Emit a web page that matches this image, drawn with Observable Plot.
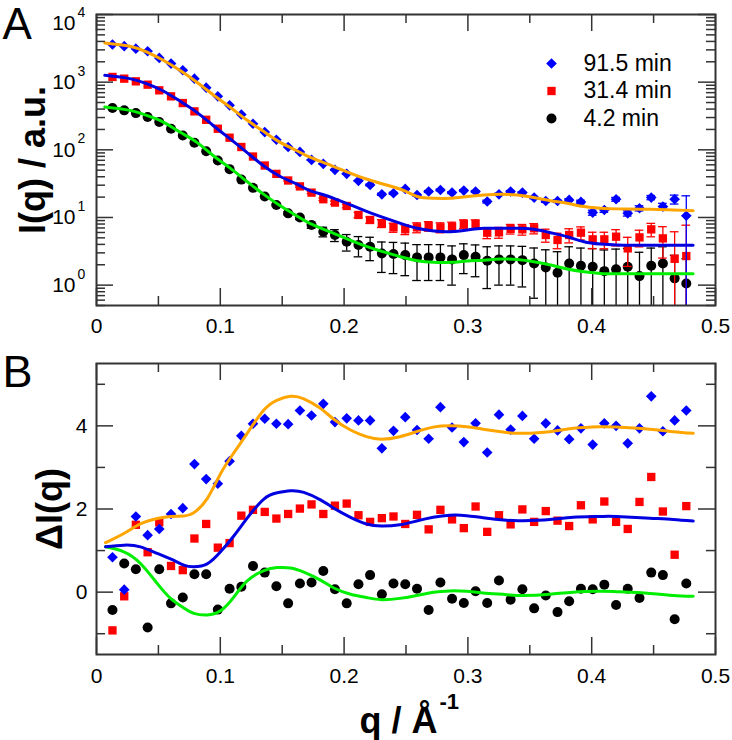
<!DOCTYPE html>
<html><head><meta charset="utf-8">
<script src="https://cdn.jsdelivr.net/npm/d3@7"></script>
<script src="https://cdn.jsdelivr.net/npm/@observablehq/plot@0.6"></script>
<style>
html,body{margin:0;padding:0;background:#fff;}
#chart svg{display:block;}
</style></head><body><div id="chart"></div>
<script>
// ---------- data ----------
const q = [0.0129,0.0224,0.0318,0.0413,0.0507,0.0602,0.0697,0.0791,0.0886,0.0980,
  0.1075,0.1170,0.1264,0.1359,0.1453,0.1548,0.1643,0.1737,0.1832,0.1926,
  0.2021,0.2116,0.2210,0.2305,0.2399,0.2494,0.2589,0.2683,0.2778,0.2872,
  0.2967,0.3062,0.3156,0.3251,0.3345,0.3440,0.3535,0.3629,0.3724,0.3818,
  0.3913,0.4008,0.4102,0.4197,0.4291,0.4386,0.4481,0.4575,0.4670,0.4764];

const seriesLabels = ["91.5 min", "31.4 min", "4.2 min"];

// Panel A: I(q)
const iA_915 = [3600,3400,3130,2860,2280,1880,1500,1127,830,617,
  454,333,243,183,141,110,93,71,62,50.6,
  44.1,34.8,30.3,22.0,22.8,26.4,21.5,24.2,25.5,23.3,
  25.0,24.2,17.2,22.0,24.2,23.3,19.7,17.5,17.5,18.2,
  17.0,11.8,12.9,18.6,11.5,13.7,19.7,14.5,18.6,10.6];
const iA_314 = [1194,1127,1028,918,757,617,491,370,278,205,
  151,110,79.6,58.6,44.1,35.2,28.8,23.3,18.6,16.6,
  14.8,10.9,9.18,8.20,7.14,6.68,7.14,7.48,7.14,7.31,
  8.02,8.02,5.96,6.03,6.79,6.68,6.92,5.51,4.65,5.51,
  5.96,4.75,4.75,5.20,3.49,5.08,6.68,4.91,2.45,2.69];
const iA_42 = [414,383,349,305,257,205,163,127,95.5,69.5,
  51.8,36.3,27.4,20.4,15.3,11.5,10.0,7.76,6.17,5.51,
  4.39,3.92,3.70,2.94,2.88,2.78,2.57,2.57,2.57,2.40,
  2.78,2.63,2.29,2.40,2.40,2.34,2.09,1.83,1.52,2.09,
  1.93,1.87,1.61,1.71,1.87,1.36,1.93,2.09,1.26,1.06];
const errA_915 = [0,0,0,0,0,0,0,0,0,0, 0,0,0,0,0,0,0.5,0.5,0.5,0.5,
  0.5,0.5,0.8,0.8,0.8,0.8,0.8,0.8,0.8,0.8, 0.8,0.8,0.8,0.8,0.8,0.8,0.8,0.8,0.8,0.8,
  1.0,1.0,1.0,1.2,1.0,1.2,1.4,1.7,2.8,10.3];
const errA_314 = [0,0,0,0,0,0,0,0,0,0, 0,0,0,0,0,0.8,0.8,0.8,0.8,0.9,
  0.9,1.0,1.0,1.1,1.1,1.1,1.2,1.2,1.2,1.2, 1.2,1.2,1.1,1.1,1.1,1.2,1.2,1.2,1.2,1.3,
  1.3,1.3,1.3,1.4,1.6,1.4,1.5,2.4,3.7,5.0];
const errA_42 = [0,0,0,0,0,0,0,0,0,0, 0,0,0,0,0.4,0.55,0.7,0.85,1.0,1.1,
  1.2,1.3,1.4,1.4,1.4,1.4,1.4,1.4,1.4,1.4, 1.3,1.3,1.4,1.4,1.4,1.4,1.45,1.5,1.6,1.6,
  1.6,1.6,1.7,1.7,1.6,1.7,1.6,1.6,1.5,1.4];

// Panel A fits
const fitQA = [0.0067,0.0269,0.0404,0.0539,0.0673,0.0808,0.0942,0.1077,0.1212,0.1346,
  0.1481,0.1616,0.1723,0.1917,0.2186,0.2456,0.2590,0.2725,0.2860,0.2994,
  0.3129,0.3263,0.3398,0.3533,0.3667,0.3802,0.3937,0.4071,0.4206,0.4475,0.4819];
const fitA_915 = [3802,3396,2799,2104,1496,1005,653,429,278,189,
  130,97.7,77.8,56.6,36.7,26.1,20.4,19.2,19.2,20.4,
  21.5,22.0,21.5,19.7,17.7,16.2,14.5,13.7,13.4,13.2,12.6];
const fitA_314 = [1262,1127,951,740,526,361,229,146,92.3,58.6,
  40.7,31.3,25.0,19.2,12.2,8.20,6.92,6.31,6.17,6.53,
  6.92,6.92,6.92,6.68,5.96,5.20,4.39,4.05,3.92,3.87,3.87];
const fitA_42 = [429,383,323,257,183,130,82.4,54.1,34.4,22.3,
  15.0,10.6,8.20,5.82,3.70,2.63,2.29,2.17,2.17,2.27,
  2.34,2.43,2.40,2.22,1.98,1.73,1.58,1.49,1.47,1.47,1.47];

// Panel B: ΔI(q)
const dI_915 = [0.84,0.06,1.82,1.37,1.52,1.88,2.02,3.08,2.72,2.61,
  3.15,3.76,4.05,4.17,4.05,4.04,4.37,4.25,4.53,4.09,
  4.18,4.13,4.13,3.46,3.88,4.21,3.90,3.69,4.45,3.96,
  3.61,4.06,3.36,4.27,3.91,4.24,3.69,4.06,3.89,3.68,
  3.94,3.55,4.06,4.00,3.58,3.94,4.71,3.87,4.13,4.37];
const dI_314 = [-0.92,-0.10,1.62,0.96,1.68,0.63,0.53,1.29,1.64,1.07,
  1.18,1.84,1.98,1.93,1.77,1.88,2.01,2.11,1.88,2.08,
  2.13,1.85,1.69,1.78,1.82,1.64,1.86,1.51,1.98,1.75,
  1.54,2.06,1.45,1.85,1.63,1.99,1.69,1.95,1.72,1.59,
  2.09,1.75,2.18,1.69,1.52,2.17,2.77,1.94,0.90,2.07];
const dI_42 = [-0.43,0.69,0.55,-0.85,0.55,-0.27,-0.13,0.43,0.43,-0.42,
  0.08,0.13,0.63,0.47,0.14,-0.27,0.21,0.23,0.51,0.07,
  -0.27,0.19,0.41,-0.05,0.21,0.19,0.08,-0.43,0.23,-0.16,
  -0.26,0.02,-0.26,0.28,-0.18,0.07,-0.39,-0.08,-0.48,-0.22,
  0.08,0.07,0.18,-0.31,0.08,-0.14,0.47,0.41,-0.65,0.21];

// Panel B fits
const fitQB = [0.0073,0.0221,0.0355,0.0490,0.0598,0.0705,0.0786,0.0894,0.1002,0.1109,
  0.1217,0.1352,0.1460,0.1567,0.1675,0.1809,0.1917,0.2052,0.2181,0.2302,
  0.2450,0.2585,0.2720,0.2854,0.2989,0.3123,0.3312,0.3447,0.3662,0.3850,
  0.4066,0.4200,0.4470,0.4658,0.4820];
const fitB_915 = [1.19,1.41,1.64,1.77,1.82,1.83,1.91,2.25,2.85,3.35,
  3.82,4.38,4.62,4.71,4.65,4.42,4.16,3.90,3.74,3.68,
  3.74,3.86,3.97,4.00,3.98,3.92,3.84,3.82,3.86,3.94,
  3.98,3.97,3.92,3.86,3.82];
const fitB_314 = [1.09,1.13,1.09,0.93,0.80,0.65,0.61,0.68,0.97,1.35,
  1.78,2.24,2.39,2.44,2.40,2.22,2.02,1.80,1.64,1.59,
  1.62,1.71,1.80,1.85,1.84,1.79,1.73,1.72,1.75,1.80,
  1.82,1.82,1.78,1.75,1.71];
const fitB_42 = [1.09,0.97,0.69,0.21,-0.15,-0.38,-0.51,-0.55,-0.45,-0.12,
  0.27,0.52,0.59,0.58,0.48,0.29,0.10,-0.05,-0.13,-0.18,
  -0.15,-0.08,0.00,0.03,0.02,-0.02,-0.06,-0.08,-0.05,0.00,
  0.02,0.01,-0.03,-0.08,-0.10];

// Ticks
const xTicksMajor = [0, 0.1, 0.2, 0.3, 0.4, 0.5];
const xTickLabels = ["0", "0.1", "0.2", "0.3", "0.4", "0.5"];
const xTicksMinor = [0.05, 0.15, 0.25, 0.35, 0.45];
const yTicksA = [1, 10, 100, 1000, 10000];
const yTickExpA = ["0", "1", "2", "3", "4"];
const yTicksAMinor = [0.5,0.6,0.7,0.8,0.9, 2,3,4,5,6,7,8,9, 20,30,40,50,60,70,80,90,
  200,300,400,500,600,700,800,900, 2000,3000,4000,5000,6000,7000,8000,9000];
const yTicksB = [0, 2, 4];
const yTickLabelsB = ["0", "2", "4"];
const yTicksBMinor = [-1, 1, 3, 5];

// ---------- styling ----------
const W = 732;
const FONT = "'Liberation Sans', Arial, Helvetica, sans-serif";
const frameColor = "#333";
const colors = {pt915: "#0000ff", pt314: "#ff0000", pt42: "#000000",
  fit915: "#ffa500", fit314: "#0000e0", fit42: "#00ee00"};
const MAJ = 17, MIN = 9;
const capHalf = 0.0035;
const yMinA = 0.5;

function tickMarks(iw, ih, yMaj, yMin) {
  const s = {stroke: frameColor, strokeWidth: 1.5};
  return [
    Plot.tickX(xTicksMajor, {x: d => d, insetTop: ih - MAJ, ...s}),
    Plot.tickX(xTicksMajor, {x: d => d, insetBottom: ih - MAJ, ...s}),
    Plot.tickX(xTicksMinor, {x: d => d, insetTop: ih - MIN, ...s}),
    Plot.tickX(xTicksMinor, {x: d => d, insetBottom: ih - MIN, ...s}),
    Plot.tickY(yMaj, {y: d => d, insetRight: iw - MAJ, ...s}),
    Plot.tickY(yMaj, {y: d => d, insetLeft: iw - MAJ, ...s}),
    Plot.tickY(yMin, {y: d => d, insetRight: iw - MIN, ...s}),
    Plot.tickY(yMin, {y: d => d, insetLeft: iw - MIN, ...s})
  ];
}

function errMarks(I, err, color) {
  const rows = q.map((qq, i) => ({q: qq, lo: Math.max(I[i] - err[i], yMinA), hi: I[i] + err[i], hasLo: I[i] - err[i] > yMinA, e: err[i]}))
    .filter(d => d.e > 0);
  return [
    Plot.ruleX(rows, {x: "q", y1: "lo", y2: "hi", stroke: color, strokeWidth: 1.3, clip: true}),
    Plot.ruleY(rows, {y: "hi", x1: d => d.q - capHalf, x2: d => d.q + capHalf, stroke: color, strokeWidth: 1.3}),
    Plot.ruleY(rows.filter(d => d.hasLo), {y: "lo", x1: d => d.q - capHalf, x2: d => d.q + capHalf, stroke: color, strokeWidth: 1.3})
  ];
}

const symbolFor = {pt915: "diamond2", pt314: "square", pt42: "circle"};
const rFor = {pt915: 4.8, pt314: 4.7, pt42: 5};

function dotMark(vals, key) {
  return Plot.dot(q.map((qq, i) => ({q: qq, v: vals[i]})),
    {x: "q", y: "v", symbol: () => symbolFor[key], fill: colors[key], stroke: "none", r: rFor[key]});
}
function fitMark(qs, vals, color) {
  return Plot.line(qs.map((qq, i) => ({q: qq, v: vals[i]})),
    {x: "q", y: "v", stroke: color, strokeWidth: 3, curve: "natural"});
}

const baseStyle = {fontFamily: FONT, fontSize: "21px", background: "white", overflow: "visible", color: "black"};

// ---------- Panel A ----------
const hA = 345, mtA = 14, mbA = 40, ml = 96, mr = 17;
const iw = W - ml - mr, ihA = hA - mtA - mbA;
const legendKeys = ["pt915", "pt314", "pt42"];
const topTick = yTicksA[yTicksA.length - 1];
const lowTicksA = yTicksA.slice(0, -1);

const plotA = Plot.plot({
  width: W, height: hA, marginTop: mtA, marginBottom: mbA, marginLeft: ml, marginRight: mr,
  x: {domain: [0, 0.5], axis: null},
  y: {type: "log", domain: [yMinA, 10000], axis: null},
  style: baseStyle,
  marks: [
    ...errMarks(iA_42, errA_42, colors.pt42),
    dotMark(iA_42, "pt42"),
    ...errMarks(iA_314, errA_314, colors.pt314),
    dotMark(iA_314, "pt314"),
    ...errMarks(iA_915, errA_915, colors.pt915),
    dotMark(iA_915, "pt915"),
    fitMark(fitQA, fitA_42, colors.fit42),
    fitMark(fitQA, fitA_314, colors.fit314),
    fitMark(fitQA, fitA_915, colors.fit915),
    ...tickMarks(iw, ihA, yTicksA, yTicksAMinor),
    Plot.frame({stroke: frameColor, strokeWidth: 2}),
    Plot.text(xTickLabels, {x: (d, i) => xTicksMajor[i], text: d => d, frameAnchor: "bottom", dy: 27, lineAnchor: "bottom", fontSize: 21}),
    Plot.text(lowTicksA, {y: d => d, text: () => "10", frameAnchor: "left", textAnchor: "end", dx: -21, lineAnchor: "middle", fontSize: 21}),
    Plot.text(lowTicksA, {y: d => d, text: (d, i) => yTickExpA[i], frameAnchor: "left", textAnchor: "start", dx: -19, dy: -11, lineAnchor: "middle", fontSize: 14}),
    Plot.text([topTick], {y: d => d, text: () => "10", frameAnchor: "left", textAnchor: "end", dx: -21, dy: 9, lineAnchor: "middle", fontSize: 21}),
    Plot.text([topTick], {y: d => d, text: () => yTickExpA[yTickExpA.length - 1], frameAnchor: "left", textAnchor: "start", dx: -19, dy: -2, lineAnchor: "middle", fontSize: 14}),
    Plot.text(["I(q) / a.u."], {frameAnchor: "left", dx: 33 - ml, rotate: -90, textAnchor: "middle", lineAnchor: "middle", fontWeight: "bold", fontSize: 36}),
    Plot.text(["A"], {frameAnchor: "top-left", dx: -ml + 2, dy: 24, textAnchor: "start", lineAnchor: "bottom", fontSize: 44}),
    ...legendKeys.map((k, i) => Plot.dot([0], {frameAnchor: "top-left", dx: 455, dy: 49 + i * 27.5, symbol: symbolFor[k], fill: colors[k], stroke: "none", r: rFor[k]})),
    ...legendKeys.map((k, i) => Plot.text([seriesLabels[i]], {frameAnchor: "top-left", dx: 487, dy: 49 + i * 27.5, text: d => d, textAnchor: "start", lineAnchor: "middle", fontSize: 23}))
  ]
});

// ---------- Panel B ----------
const hB = 395, mtB = 18, mbB = 86;
const ihB = hB - mtB - mbB;
const plotB = Plot.plot({
  width: W, height: hB, marginTop: mtB, marginBottom: mbB, marginLeft: ml, marginRight: mr,
  x: {domain: [0, 0.5], axis: null},
  y: {domain: [-1.5, 5.5], axis: null},
  style: baseStyle,
  marks: [
    dotMark(dI_42, "pt42"),
    dotMark(dI_314, "pt314"),
    dotMark(dI_915, "pt915"),
    fitMark(fitQB, fitB_42, colors.fit42),
    fitMark(fitQB, fitB_314, colors.fit314),
    fitMark(fitQB, fitB_915, colors.fit915),
    ...tickMarks(iw, ihB, yTicksB, yTicksBMinor),
    Plot.frame({stroke: frameColor, strokeWidth: 2}),
    Plot.text(xTickLabels, {x: (d, i) => xTicksMajor[i], text: d => d, frameAnchor: "bottom", dy: 28, lineAnchor: "bottom", fontSize: 21}),
    Plot.text(yTickLabelsB, {y: (d, i) => yTicksB[i], text: d => d, frameAnchor: "left", textAnchor: "end", dx: -9, lineAnchor: "middle", fontSize: 21}),
    Plot.text(["ΔI(q)"], {frameAnchor: "left", dx: 50 - ml, rotate: -90, textAnchor: "middle", lineAnchor: "middle", fontWeight: "bold", fontSize: 36}),
    Plot.text(["q / Å"], {frameAnchor: "bottom", dx: 31.5, dy: 78, textAnchor: "end", lineAnchor: "bottom", fontWeight: "bold", fontSize: 36}),
    Plot.text(["-1"], {frameAnchor: "bottom", dx: 33.5, dy: 54, textAnchor: "start", lineAnchor: "bottom", fontWeight: "bold", fontSize: 22}),
    Plot.text(["B"], {frameAnchor: "top-left", dx: -ml + 2, dy: 23, textAnchor: "start", lineAnchor: "bottom", fontSize: 45})
  ]
});

const root = document.getElementById("chart");
root.appendChild(plotA);
root.appendChild(plotB);
</script>
</body></html>
